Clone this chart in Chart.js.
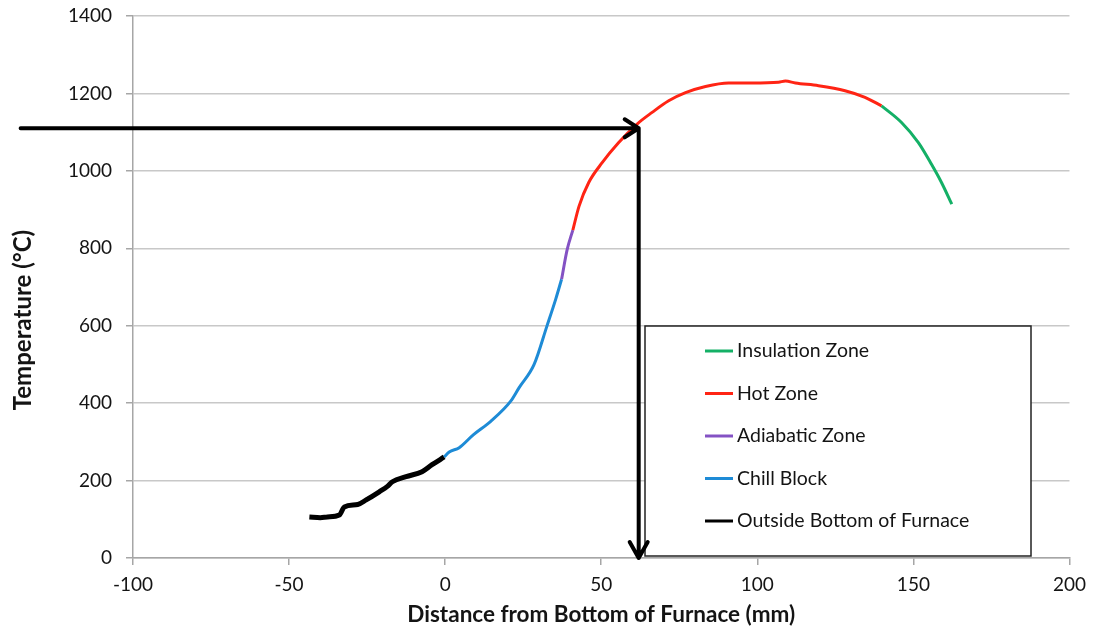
<!DOCTYPE html>
<html>
<head>
<meta charset="utf-8">
<script src="https://cdn.jsdelivr.net/npm/chart.js@4"></script>
<style>
  html, body { margin: 0; padding: 0; background: #fff; }
  #wrap { width: 1094px; height: 632px; }
</style>
</head>
<body>
<div id="wrap"><canvas id="myChart" width="1094" height="632"></canvas></div>
<script>
// series (distance mm, temperature °C)
const distOutside = [-43.5, -40, -37.7, -33.9, -32.3, -28, -25.3, -21.1, -18.5, -16.9, -12.5, -7.4, -4.2, -0.3];
const tempOutside = [106, 104, 106, 111, 132, 138, 150, 171, 185, 197, 210, 223, 241, 261];

const distChill = [-0.3, 1.3, 4.5, 9, 14.6, 21, 23.7, 28.5, 32.6, 35.4, 37.3];
const tempChill = [261, 274, 285, 318, 353, 405, 440, 500, 599, 668, 720];

const distAdiabatic = [37.3, 39.1, 40.9];
const tempAdiabatic = [720, 797, 847];

const distHot = [40.9, 42.9, 46, 50.3, 55.6, 61.5, 66.3, 71.6, 77, 83.4, 90.8, 98.3, 106.8, 109, 112.2, 119.6, 128.1, 134.5, 139.8];
const tempHot = [847, 909, 970, 1021, 1073, 1121, 1151, 1181, 1202, 1218, 1227, 1227, 1229, 1232, 1227, 1220, 1207, 1190, 1168];

const distInsulation = [139.8, 146.2, 151.6, 155.8, 159, 162.3];
const tempInsulation = [1168, 1125, 1073, 1017, 970, 914];

// the arrow marking the reading
const arrowFromX = -136;
const markX = 62;
const markY = 1110;

const yTitle = "Temperature (°C)";

const toPoints = (xs, ys) => xs.map((x, i) => ({ x: x, y: ys[i] }));

const ctx = document.getElementById("myChart").getContext("2d");

const data = {
  datasets: [
    { label: "Insulation Zone", data: toPoints(distInsulation, tempInsulation), borderColor: "#14b066", borderWidth: 3 },
    { label: "Hot Zone", data: toPoints(distHot, tempHot), borderColor: "#ff2414", borderWidth: 3 },
    { label: "Adiabatic Zone", data: toPoints(distAdiabatic, tempAdiabatic), borderColor: "#8452c4", borderWidth: 3 },
    { label: "Chill Block", data: toPoints(distChill, tempChill), borderColor: "#1e8bd6", borderWidth: 3 },
    { label: "Outside Bottom of Furnace", data: toPoints(distOutside, tempOutside), borderColor: "#000000", borderWidth: 5 },
  ],
};
data.datasets.forEach(d => {
  d.showLine = true;
  d.pointRadius = 0;
  d.cubicInterpolationMode = "monotone";
  d.fill = false;
});

const fontFam = "Lato, 'Open Sans', sans-serif";
const txtColor = "#141414";

const myChart = new Chart(ctx, {
  type: "scatter",
  data: data,
  options: {
    responsive: false,
    animation: false,
    layout: { padding: { left: 0, right: 23, top: 16, bottom: 0 } },
    scales: {
      x: {
        type: "linear",
        min: -100,
        max: 200,
        ticks: {
          stepSize: 50, color: txtColor, font: { family: fontFam, size: 19 }, padding: 8,
          callback: function (value) { return String(value); },
        },
        grid: { drawOnChartArea: false, color: "#a6a6a6", tickLength: 7, lineWidth: 1.5 },
        border: { color: "#a6a6a6", width: 1.5 },
        title: { display: true, text: "Distance from Bottom of Furnace (mm)", color: txtColor, font: { family: fontFam, size: 22.5, weight: "bold" }, padding: { top: 3 } },
        afterFit: function (scale) { scale.height = 74; },
      },
      y: {
        min: 0,
        max: 1400,
        ticks: {
          stepSize: 200, color: txtColor, font: { family: fontFam, size: 19 }, padding: 14,
          callback: function (value) { return String(value); },
        },
        grid: { color: "#c8c8c8", tickColor: "#a6a6a6", tickLength: 7, lineWidth: 1.5 },
        border: { color: "#a6a6a6", width: 1.5 },
        afterFit: function (scale) {
          scale.width = 133;
          scale.paddingTop = 0;
          scale.paddingBottom = 0;
        },
      },
    },
    plugins: {
      legend: { display: false },
      tooltip: { enabled: false },
    },
  },
  plugins: [
    {
      // y title, sits a little below the middle like the original
      afterDraw: function (chart) {
        const c = chart.ctx;
        c.save();
        c.translate(23, 320);
        c.rotate(-Math.PI / 2);
        c.font = "bold 24px " + fontFam;
        c.fillStyle = txtColor;
        c.textAlign = "center";
        c.textBaseline = "middle";
        c.fillText(yTitle, 0, 0);
        c.restore();
      },
    },
    {
      // boxed legend inside the plot, like the original
      afterDraw: function (chart) {
        const c = chart.ctx;
        const left = 645, top = 326, right = 1031, bottom = 556;
        c.save();
        c.fillStyle = "#fff";
        c.fillRect(left, top, right - left, bottom - top);
        c.strokeStyle = "#222";
        c.lineWidth = 1.5;
        c.strokeRect(left, top, right - left, bottom - top);
        c.font = "19.5px " + fontFam;
        c.textBaseline = "middle";
        chart.data.datasets.forEach((ds, i) => {
          const y = top + 25 + i * 42.5;
          c.strokeStyle = ds.borderColor;
          c.lineWidth = 3;
          c.beginPath();
          c.moveTo(705, y);
          c.lineTo(733, y);
          c.stroke();
          c.fillStyle = txtColor;
          c.fillText(ds.label, 737, y);
        });
        c.restore();
      },
    },
    {
      // hand drawn arrow: horizontal to the curve, then down to the axis
      afterDraw: function (chart) {
        const c = chart.ctx;
        const xs = chart.scales.x, ys = chart.scales.y;
        const x0 = xs.getPixelForValue(arrowFromX);
        const xm = xs.getPixelForValue(markX);
        const ym = ys.getPixelForValue(markY);
        const yb = ys.getPixelForValue(0);
        c.save();
        c.strokeStyle = "#000";
        c.lineWidth = 4;
        c.lineCap = "round";
        c.lineJoin = "round";
        c.beginPath();
        c.moveTo(x0, ym);
        c.lineTo(xm, ym);
        c.moveTo(xm - 14, ym - 9);
        c.lineTo(xm, ym);
        c.lineTo(xm - 14, ym + 9);
        c.moveTo(xm, ym);
        c.lineTo(xm, yb);
        c.moveTo(xm - 9, yb - 16);
        c.lineTo(xm, yb);
        c.lineTo(xm + 9, yb - 16);
        c.stroke();
        c.restore();
      },
    },
  ],
});
</script>
</body>
</html>
